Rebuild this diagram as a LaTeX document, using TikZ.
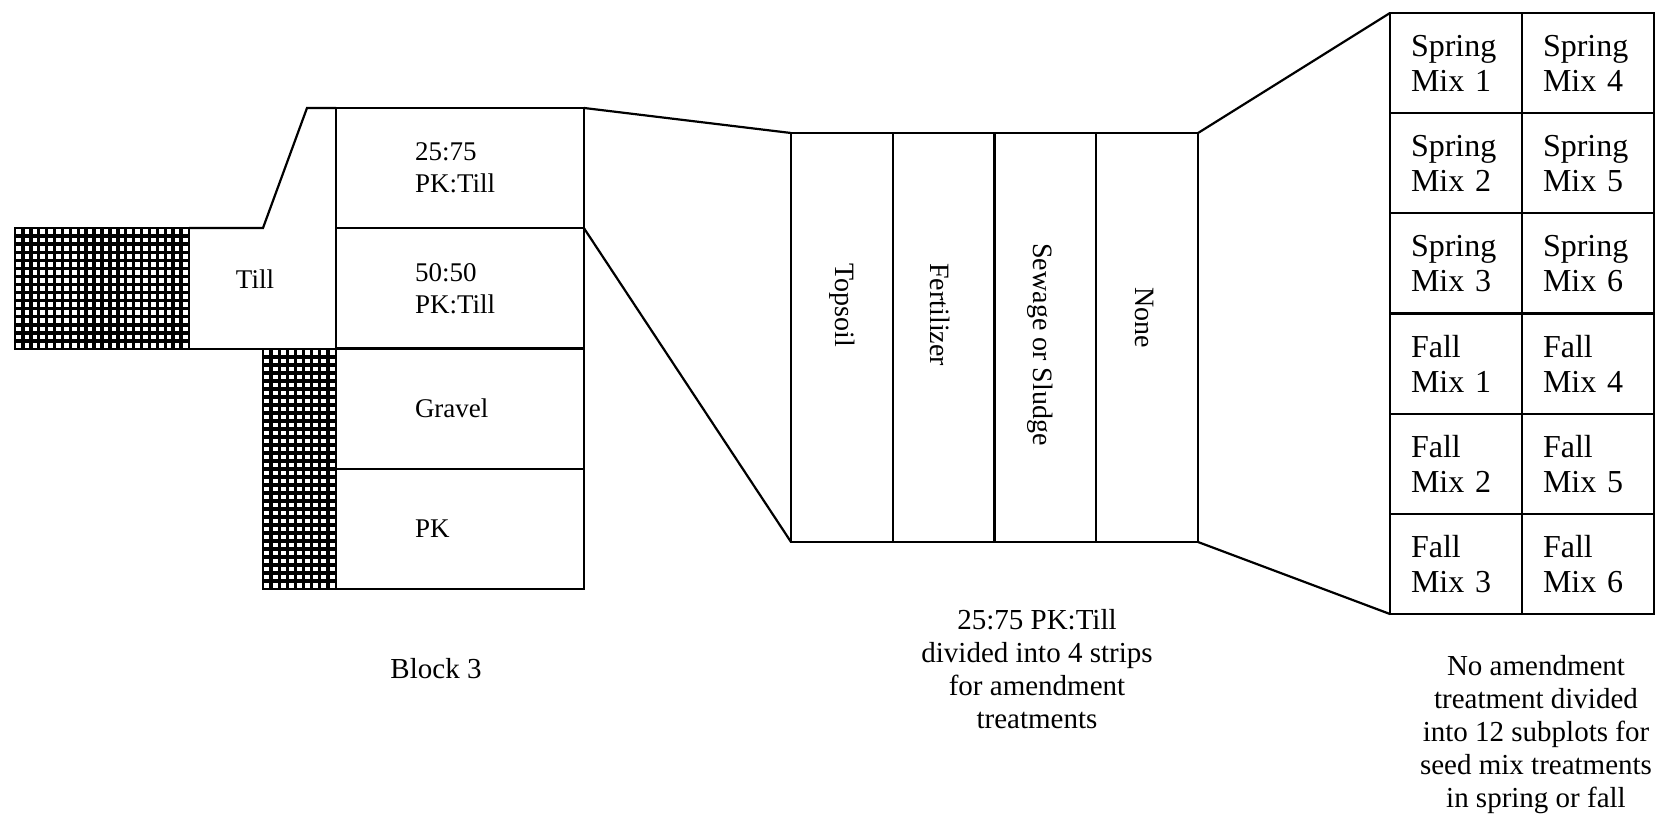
\documentclass[tikz,border=0pt]{standalone}
\usepackage{fontspec}
\setmainfont{Liberation Serif}
\usetikzlibrary{positioning}
\begin{document}
\begin{tikzpicture}[x=0.5pt,y=-0.5pt,line join=miter,
  plotbox/.style={draw,line width=1.1pt,outer sep=0pt,minimum width=124pt,minimum height=60.125pt,
    inner xsep=39.5pt,inner ysep=0pt,text width=45pt,align=left,font=\fontsize{13.5}{16}\selectfont},
  stripbox/.style={draw,line width=1.1pt,outer sep=0pt,minimum width=50.875pt,minimum height=204.5pt,inner sep=0pt},
  striplabel/.style={rotate=-90,anchor=west,inner sep=0pt,font=\fontsize{14}{16}\selectfont},
  cellbox/.style={draw,line width=1.1pt,outer sep=0pt,minimum width=66pt,minimum height=50.08pt,
    inner xsep=10.5pt,inner ysep=0pt,text width=45pt,align=left,font=\fontsize{16}{17.5}\selectfont},
  meshbox/.style={draw,line width=1.1pt,outer sep=0pt,inner sep=0pt},
  mesh/.style={line width=1.7pt},
  edge/.style={line width=1.1pt},
  note/.style={align=center,font=\fontsize{14.5}{16.5}\selectfont}]
  \useasboundingbox (0,0) rectangle (1667,830);
  % block 3
  \node[plotbox] (r25) at (460,168.1) {25:75\\PK:Till};
  \node[plotbox,below=0pt of r25] (r50) {50:50\\PK:Till};
  \node[plotbox,below=0pt of r50] (gravel) {Gravel};
  \node[plotbox,below=0pt of gravel] (pk) {PK};
  \node[meshbox,minimum width=87pt,minimum height=60.5pt] (lhatch) at (102,288.5) {};
  \node[meshbox,minimum width=36.5pt,minimum height=120pt] (bhatch) at (299.5,469) {};
  \foreach \k in {1,...,21} \draw[mesh] ({15+\k*174/22},228) -- ++(0,121);
  \foreach \k in {1,...,14} \draw[mesh] (15,{228+\k*121/15}) -- ++(174,0);
  \foreach \k in {1,...,8} \draw[mesh] ({263+\k*73/9},349) -- ++(0,240);
  \foreach \k in {1,...,29} \draw[mesh] (263,{349+\k*8}) -- ++(73,0);
  \coordinate (bend) at (263,228);
  \coordinate (peak) at (307,108);
  \draw[edge] (lhatch.north east) -- (bend) -- (peak) -- (r25.north west);
  \draw[edge] (lhatch.south east) -- (bhatch.north west);
  \node[font=\fontsize{13.5}{16}\selectfont] (till) at (255,279) {Till};
  % amendment strips
  \node[stripbox] (topsoil) at (841.9,337.5) {};
  \node[stripbox,right=0pt of topsoil] (fert) {};
  \node[stripbox,right=0pt of fert] (sewage) {};
  \node[stripbox,right=0pt of sewage] (none) {};
  \node[striplabel] (ltop) at (841.9,263) {Topsoil};
  \node[striplabel] (lfert) at (940,263) {Fertilizer};
  \node[striplabel] (lsew) at (1040,243) {Sewage or Sludge};
  \node[striplabel] (lnone) at (1145,287) {None};
  \draw[edge] (r25.north east) -- (topsoil.north west);
  \draw[edge] (r25.south east) -- (topsoil.south west);
  % seed mix subplots
  \foreach \r/\sea/\ma/\mb in {1/Spring/1/4,2/Spring/2/5,3/Spring/3/6,4/Fall/1/4,5/Fall/2/5,6/Fall/3/6} {
    \node[cellbox] (c\r-a) at (1456,{13+(\r-0.5)*100.17}) {\sea\\Mix \ma};
    \node[cellbox,right=0pt of c\r-a] (c\r-b) {\sea\\Mix \mb};
  }
  \draw[edge] (none.north east) -- (c1-a.north west);
  \draw[edge] (none.south east) -- (c6-a.south west);
  % captions
  \node[note] (blk) at (436,669) {Block 3};
  \node[note] (capstrip) at (1037,669) {25:75 PK:Till\\divided into 4 strips\\for amendment\\treatments};
  \node[note] (capcell) at (1536,735) {No amendment\\treatment divided\\into 12 subplots for\\seed mix treatments\\in spring or fall};
\end{tikzpicture}
\end{document}
